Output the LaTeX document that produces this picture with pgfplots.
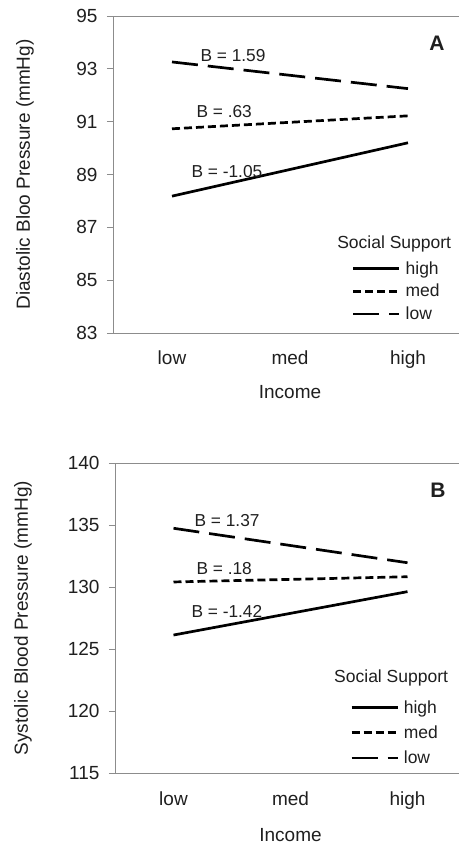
\documentclass[border=0pt]{standalone}
\usepackage{pgfplots}
\pgfplotsset{compat=1.18}
\usepackage{fontspec}
\setmainfont{Liberation Sans}
\definecolor{axgray}{gray}{0.55}
\definecolor{txt}{gray}{0.12}
\newcommand\ph{\vphantom{hlgH}}
\pgfplotsset{
  panel/.style={
    scale only axis,
    xmin=-0.5, xmax=2.5,
    xtick={0,1,2}, xticklabels={low,med,high},
    xtick style={draw=none},
    ytick style={axgray, line width=0.8pt},
    tick align=outside, major tick length=6pt,
    axis line style={axgray, line width=0.9pt},
    /pgf/number format/assume math mode=true,
    tick label style={font=\fontsize{19}{22}\selectfont, text=txt},
    yticklabel style={xshift=-6pt},
    label style={font=\fontsize{19}{22}\selectfont, text=txt},
    legend image code/.code={\draw[##1, line width=2.7pt] (0pt,5.5pt) -- (46pt,5.5pt);},
    legend cell align=left,
    legend style={draw=none, fill=none, inner sep=0pt, outer sep=0pt, column sep=5pt,
      nodes={inner sep=0pt, font=\fontsize{17.5}{20}\selectfont, text=txt, anchor=base west}},
    clip=false,
  },
  hi/.style={black, line width=2.7pt, solid},
  md/.style={black, line width=2.7pt, dash pattern=on 8pt off 4pt},
  lo/.style={black, line width=2.7pt, dash pattern=on 26pt off 10pt},
}
\begin{document}
\begin{tikzpicture}
\useasboundingbox (0,0) rectangle (458pt,848pt);
% Panel A
\begin{axis}[panel,
  at={(113pt,515pt)}, anchor=south west,
  width=354pt, height=317pt,
  ymin=83, ymax=95, ytick={83,85,87,89,91,93,95},
  ylabel={Diastolic Bloo Pressure (mmHg)},
  ylabel style={at={(axis description cs:-0.2486,0.5)}, anchor=center},
  xlabel={Income},
  xlabel style={at={(axis description cs:0.5,-0.186)}, anchor=center},
  xticklabel style={yshift=-8pt},
  legend style={at={(axis description cs:0.675,0.2256)}, anchor=north west, row sep=8.5pt},
]
\addplot[hi] coordinates {(0,88.18) (2,90.20)};
\addlegendentry{\ph high}
\addplot[md] coordinates {(0,90.73) (2,91.22)};
\addlegendentry{\ph med}
\addplot[lo] coordinates {(0,93.26) (2,92.25)};
\addlegendentry{\ph low}
\node[anchor=west, font=\fontsize{17.3}{20}\selectfont, text=txt] at (axis cs:0.212,93.52) {B = 1.59};
\node[anchor=west, font=\fontsize{17.3}{20}\selectfont, text=txt] at (axis cs:0.178,91.37) {B = .63};
\node[anchor=west, font=\fontsize{17.3}{20}\selectfont, text=txt] at (axis cs:0.136,89.10) {B = -1.05};
\node[font=\fontsize{21}{24}\selectfont\bfseries, text=txt] at (axis cs:2.246,93.98) {A};
\node[anchor=west, font=\fontsize{17.5}{20}\selectfont, text=txt, inner sep=0pt] at (axis description cs:0.633,0.281) {Social Support};
\end{axis}
% Panel B
\begin{axis}[panel,
  at={(115pt,74.7pt)}, anchor=south west,
  width=351pt, height=310pt,
  ymin=115, ymax=140, ytick={115,120,125,130,135,140},
  ylabel={Systolic Blood Pressure (mmHg)},
  ylabel style={at={(axis description cs:-0.262,0.5)}, anchor=center},
  xlabel={Income},
  xlabel style={at={(axis description cs:0.5,-0.199)}, anchor=center},
  xticklabel style={yshift=-9pt},
  legend style={at={(axis description cs:0.670,0.235)}, anchor=north west, row sep=11pt},
]
\addplot[hi] coordinates {(0,126.15) (2,129.65)};
\addlegendentry{\ph high}
\addplot[md] coordinates {(0,130.43) (2,130.85)};
\addlegendentry{\ph med}
\addplot[lo] coordinates {(0,134.76) (2,131.98)};
\addlegendentry{\ph low}
\node[anchor=west, font=\fontsize{17.3}{20}\selectfont, text=txt] at (axis cs:0.150,135.37) {B = 1.37};
\node[anchor=west, font=\fontsize{17.3}{20}\selectfont, text=txt] at (axis cs:0.167,131.48) {B = .18};
\node[anchor=west, font=\fontsize{17.3}{20}\selectfont, text=txt] at (axis cs:0.124,128.03) {B = -1.42};
\node[font=\fontsize{21}{24}\selectfont\bfseries, text=txt] at (axis cs:2.26,137.85) {B};
\node[anchor=west, font=\fontsize{17.5}{20}\selectfont, text=txt, inner sep=0pt] at (axis description cs:0.624,0.308) {Social Support};
\end{axis}
\end{tikzpicture}
\end{document}
